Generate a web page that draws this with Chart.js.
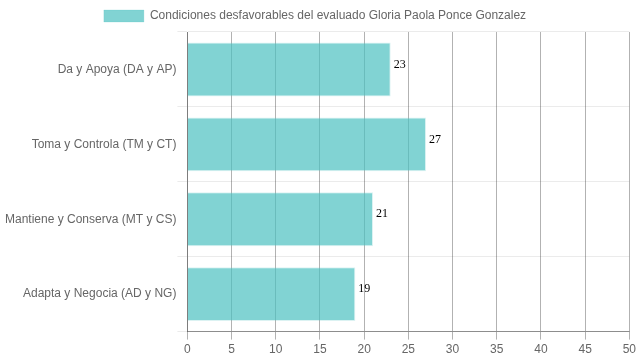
<!DOCTYPE html>
<html lang="es">
<head>
    <meta charset="UTF-8">
    <title>Condiciones desfavorables</title>
    <script src="https://cdn.jsdelivr.net/npm/chart.js"></script>
    <style>
        html, body { margin: 0; padding: 0; background: #fff; }
        #contenedor { width: 639px; height: 360px; }
    </style>
</head>
<body>
    <div id="contenedor"><canvas id="grafico"></canvas></div>

    <script>
        const categorias = ['Da y Apoya (DA y AP)', 'Toma y Controla (TM y CT)', 'Mantiene y Conserva (MT y CS)', 'Adapta y Negocia (AD y NG)'];
        const valores = [23, 27, 21, 19];
        const etiquetaSerie = 'Condiciones desfavorables del evaluado Gloria Paola Ponce Gonzalez';

        Chart.defaults.font.family = '"Liberation Sans", Arial, sans-serif';
        Chart.defaults.font.size = 12;
        Chart.defaults.color = '#666';

        // escribe el valor al final de cada barra
        const etiquetasValor = {
            id: 'etiquetasValor',
            afterDatasetsDraw(chart) {
                const ctx = chart.ctx;
                ctx.save();
                ctx.font = '12px "Liberation Serif", "Times New Roman", serif';
                ctx.fillStyle = '#000';
                ctx.textBaseline = 'bottom';
                chart.getDatasetMeta(0).data.forEach((barra, i) => {
                    ctx.fillText(valores[i], barra.x + 3, barra.y + 1);
                });
                ctx.restore();
            }
        };

        new Chart(document.getElementById('grafico'), {
            type: 'bar',
            data: {
                labels: categorias,
                datasets: [{
                    label: etiquetaSerie,
                    data: valores,
                    backgroundColor: 'rgba(75, 192, 192, 0.7)',
                    borderColor: 'rgba(75, 192, 192, 0.2)',
                    borderWidth: 1
                }]
            },
            options: {
                indexAxis: 'y',
                responsive: true,
                maintainAspectRatio: false,
                animation: false,
                layout: { padding: { right: 9, left: 0 } },
                plugins: {
                    legend: {
                        labels: { boxWidth: 40, boxHeight: 12, padding: 10 }
                    },
                    tooltip: { enabled: false }
                },
                scales: {
                    x: {
                        min: 0,
                        max: 50,
                        ticks: { stepSize: 5 },
                        grid: { color: 'rgba(0, 0, 0, 0.3)', tickLength: 8 },
                        border: { color: 'rgba(0, 0, 0, 0.4)' }
                    },
                    y: {
                        ticks: { padding: 1 },
                        grid: { color: 'rgba(0, 0, 0, 0.08)', tickLength: 10 },
                        border: { color: 'rgba(0, 0, 0, 0.3)' },
                        afterFit(escala) { escala.width += 4; }
                    }
                }
            },
            plugins: [etiquetasValor]
        });
    </script>
</body>
</html>
